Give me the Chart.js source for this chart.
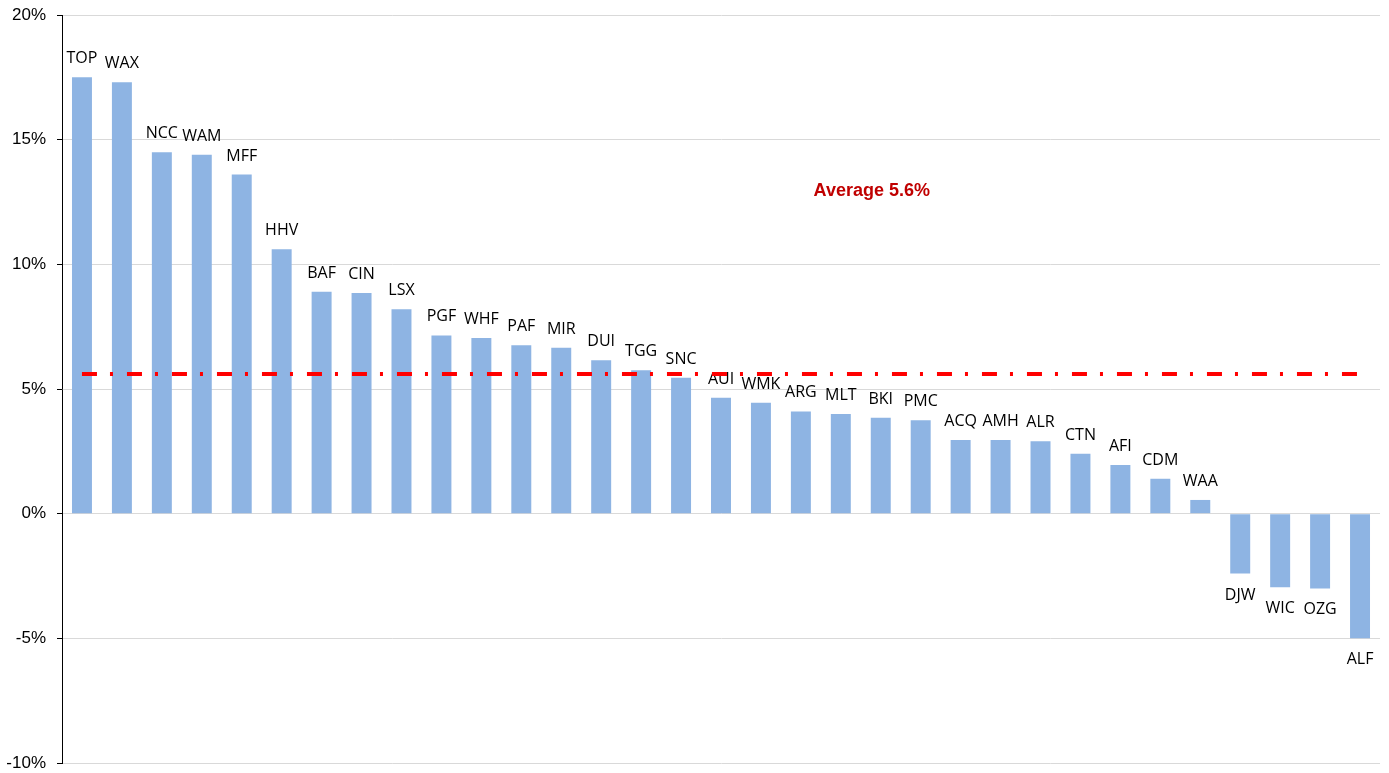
<!DOCTYPE html>
<html>
<head>
<meta charset="utf-8">
<script src="https://cdn.jsdelivr.net/npm/chart.js@4.4.1/dist/chart.umd.min.js"></script>
<style>
  html, body { margin: 0; padding: 0; background: #fff; }
  #wrap { width: 1389px; height: 773px; }
</style>
</head>
<body>
<div id="wrap"><canvas id="returns"></canvas></div>
<script>
// fund codes, sorted by return
const funds = ["TOP", "WAX", "NCC", "WAM", "MFF", "HHV", "BAF", "CIN", "LSX", "PGF", "WHF",
               "PAF", "MIR", "DUI", "TGG", "SNC", "AUI", "WMK", "ARG", "MLT", "BKI", "PMC",
               "ACQ", "AMH", "ALR", "CTN", "AFI", "CDM", "WAA", "DJW", "WIC", "OZG", "ALF"];
// returns in %
const returns = [17.5, 17.3, 14.5, 14.4, 13.6, 10.6, 8.9, 8.85, 8.2, 7.15, 7.05,
                 6.75, 6.65, 6.15, 5.75, 5.45, 4.65, 4.45, 4.1, 4.0, 3.85, 3.75,
                 2.95, 2.95, 2.9, 2.4, 1.95, 1.4, 0.55, -2.4, -2.95, -3.0, -5.0];
const average = 5.6;
const yTicks = [-10, -5, 0, 5, 10, 15, 20];

const avgLine = funds.map(() => average);

// fund code above (or below) each bar
const barLabels = {
    id: 'barLabels',
    afterDatasetDraw(chart, args) {
        if (args.index !== 0) return;
        const ctx = chart.ctx;
        ctx.save();
        ctx.font = '16px "Open Sans"';
        ctx.fillStyle = '#000';
        ctx.textAlign = 'center';
        ctx.textBaseline = 'alphabetic';
        args.meta.data.forEach((bar, i) => {
            if (returns[i] >= 0) {
                ctx.fillText(funds[i], bar.x, bar.y - 14);
            } else {
                ctx.fillText(funds[i], bar.x, bar.y + 26);
            }
        });
        ctx.restore();
    }
};

const avgLabel = {
    id: 'avgLabel',
    afterDraw(chart) {
        const ctx = chart.ctx;
        const x = chart.scales.x;
        const y = chart.scales.y;
        ctx.save();
        ctx.font = 'bold 18px "Liberation Sans", Arial';
        ctx.fillStyle = '#c00000';
        ctx.textAlign = 'center';
        ctx.textBaseline = 'middle';
        ctx.fillText('Average ' + average.toFixed(1) + '%',
            (x.getPixelForValue(19) + x.getPixelForValue(20)) / 2 + 11, y.getPixelForValue(12.95));
        ctx.restore();
    }
};

new Chart(document.getElementById('returns'), {
    data: {
        labels: funds,
        datasets: [
            {
                type: 'bar',
                data: returns,
                backgroundColor: '#8eb4e3',
                barPercentage: 0.5,
                categoryPercentage: 1.0,
                order: 1
            },
            {
                type: 'line',
                data: avgLine,
                borderColor: '#ff0000',
                borderWidth: 4,
                borderDash: [15, 13, 3, 14],
                pointRadius: 0,
                fill: false,
                order: 0
            }
        ]
    },
    options: {
        responsive: true,
        maintainAspectRatio: false,
        animation: false,
        layout: { padding: { top: 15, right: 9, bottom: 10, left: 0 } },
        plugins: {
            legend: { display: false },
            tooltip: { enabled: false }
        },
        scales: {
            x: {
                display: false
            },
            y: {
                min: -10,
                max: 20,
                afterFit(scale) {
                    scale.width = 62;
                    scale.paddingTop = 0;
                    scale.paddingBottom = 0;
                },
                afterBuildTicks(scale) { scale.ticks = yTicks.map(v => ({ value: v })); },
                border: { color: '#000', width: 1 },
                grid: {
                    color: '#d9d9d9',
                    tickColor: '#000',
                    tickLength: 5
                },
                ticks: {
                    padding: 11,
                    color: '#000',
                    font: { family: '"Liberation Sans", Arial', size: 17 },
                    callback: v => v + '%'
                }
            }
        }
    },
    plugins: [barLabels, avgLabel]
});
</script>
</body>
</html>
